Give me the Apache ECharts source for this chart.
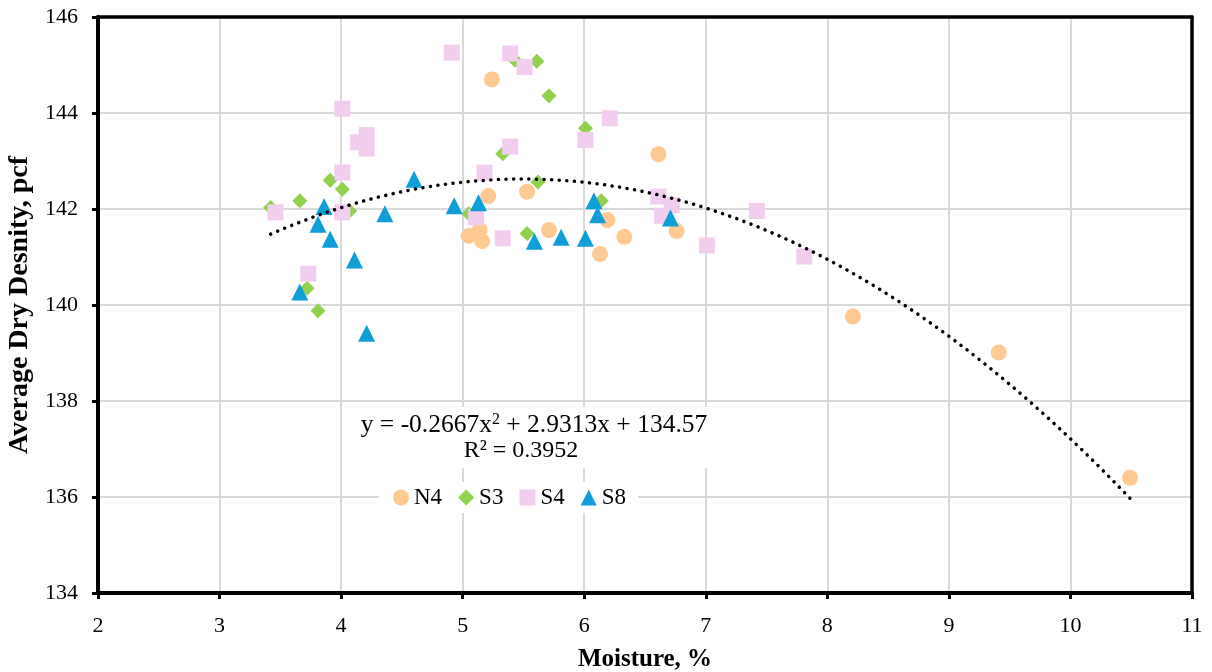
<!DOCTYPE html>
<html><head><meta charset="utf-8">
<script src="https://cdn.jsdelivr.net/npm/echarts@6/dist/echarts.min.js"></script>
<style>html,body{margin:0;padding:0;background:#fff}#c{width:1212px;height:672px}</style>
</head><body><div id="c"></div>
<script>
const seriesNames = ['N4','S3','S4','S8'];
const N4 = [[5.24,144.7],[5.21,142.27],[5.53,142.36],[5.05,141.44],[5.14,141.56],[5.16,141.33],[5.71,141.56],[6.19,141.77],[6.33,141.42],[6.13,141.06],[6.61,143.14],[6.76,141.54],[8.21,139.76],[9.41,139.01],[10.49,136.40]];
const S3 = [[3.42,142.03],[3.66,142.17],[3.91,142.60],[4.01,142.41],[4.07,141.96],[3.72,140.35],[3.81,139.88],[5.43,145.10],[5.61,145.08],[5.71,144.36],[6.01,143.68],[5.33,143.15],[5.62,142.56],[5.05,141.90],[5.53,141.49],[6.14,142.17]];
const S4 = [[4.01,144.09],[4.21,143.54],[4.14,143.39],[4.21,143.26],[4.01,142.76],[3.46,141.93],[4.01,141.93],[3.73,140.65],[4.91,145.26],[5.39,145.24],[5.51,144.96],[6.21,143.89],[6.01,143.44],[5.39,143.30],[5.18,142.76],[5.11,141.83],[5.33,141.39],[6.61,142.26],[6.72,142.08],[6.64,141.86],[7.01,141.24],[7.42,141.96],[7.81,141.01]];
const S8 = [[4.60,142.62],[3.86,142.05],[4.36,141.90],[3.81,141.68],[3.91,141.37],[4.11,140.94],[3.66,140.27],[4.21,139.41],[4.93,142.07],[5.13,142.13],[5.59,141.33],[5.81,141.41],[6.01,141.39],[6.08,142.17],[6.11,141.88],[6.71,141.81]];
// trendline coefficients as printed on the chart: y = a x^2 + b x + c
const trendCoef = [-0.2667, 2.9313, 134.57];
const trendRange = [3.42, 10.49];
const equationLine1 = 'y = -0.2667x{s|2} + 2.9313x + 134.57';
const equationLine2 = 'R² = 0.3952';
const xTicks = [2,3,4,5,6,7,8,9,10,11];
const yTicks = [134,136,138,140,142,144,146];

const trend = [];
for (let i = 0; i <= 140; i++) {
  const x = trendRange[0] + (trendRange[1]-trendRange[0]) * i / 140;
  trend.push([x, trendCoef[0]*x*x + trendCoef[1]*x + trendCoef[2]]);
}
const font = '"Liberation Serif","Times New Roman",serif';
const chart = echarts.init(document.getElementById('c'), null, {renderer:'canvas'});
const mk = (name, data, symbol, size, color) => ({
  name, type:'scatter', data, symbol, symbolSize:size,
  itemStyle:{color, opacity:1}, z:3
});
const borderAxis = {axisLine:{show:true, lineStyle:{color:'#000', width:3.5}}, axisTick:{show:false}, axisLabel:{show:false}, splitLine:{show:false}};
chart.setOption({
  animation:false,
  backgroundColor:'#fff',
  grid:{left:98, right:20, top:17, bottom:79, outerBoundsMode:'none', containLabel:false},
  xAxis:[{type:'value', min:xTicks[0], max:xTicks[xTicks.length-1], interval:1,
    name:'Moisture, %', nameLocation:'middle', nameGap:54,
    nameTextStyle:{fontFamily:font, fontSize:25, fontWeight:'bold', color:'#000'},
    axisLine:{show:true, lineStyle:{color:'#000', width:4}},
    axisTick:{show:true, length:6, lineStyle:{color:'#000', width:3}},
    axisLabel:{fontFamily:font, fontSize:22, color:'#000', margin:22},
    splitLine:{show:true, lineStyle:{color:'#d9d9d9', width:2}}},
    Object.assign({type:'value', position:'top', min:xTicks[0], max:xTicks[xTicks.length-1], interval:1}, borderAxis)],
  yAxis:[{type:'value', min:yTicks[0], max:yTicks[yTicks.length-1], interval:2,
    name:'Average Dry Desnity, pcf', nameLocation:'middle', nameGap:63,
    nameTextStyle:{fontFamily:font, fontSize:28, fontWeight:'bold', color:'#000'},
    axisLine:{show:true, lineStyle:{color:'#000', width:4}},
    axisTick:{show:true, length:6, lineStyle:{color:'#000', width:3}},
    axisLabel:{fontFamily:font, fontSize:22, color:'#000', margin:20},
    splitLine:{show:true, lineStyle:{color:'#d9d9d9', width:2}}},
    Object.assign({type:'value', position:'right', min:yTicks[0], max:yTicks[yTicks.length-1], interval:2}, borderAxis)],
  legend:{data:seriesNames, left:379, top:482, itemGap:16, itemWidth:16, itemHeight:16,
    backgroundColor:'#fff', padding:[4,12,4,14],
    textStyle:{fontFamily:font, fontSize:23, color:'#000'}},
  graphic:[
    {type:'rect', shape:{x:350, y:407, width:370, height:61}, style:{fill:'#fff'}, z:5, silent:true},
    {type:'text', x:534, y:425, z:6, silent:true,
     style:{text:equationLine1, align:'center', verticalAlign:'middle', fontFamily:font, fontSize:25.5, fill:'#000',
       rich:{s:{fontSize:16, fontFamily:font, padding:[0,0,10,0]}}}},
    {type:'text', x:521, y:451, z:6, silent:true,
     style:{text:equationLine2, align:'center', verticalAlign:'middle', fontFamily:font, fontSize:24, fill:'#000'}}
  ],
  series:[
    mk('N4', N4, 'circle', 16, '#FFC994'),
    mk('S3', S3, 'diamond', 15, '#92D050'),
    mk('S4', S4, 'rect', 16, '#F1CDEE'),
    mk('S8', S8, 'triangle', 17, '#0F9ED5'),
    {name:'trend', type:'line', data:trend, showSymbol:false, symbol:'none', smooth:false,
     lineStyle:{color:'#000', width:3.5, type:[0.1,7.5], cap:'round'}, z:4, silent:true}
  ]
});
</script></body></html>
